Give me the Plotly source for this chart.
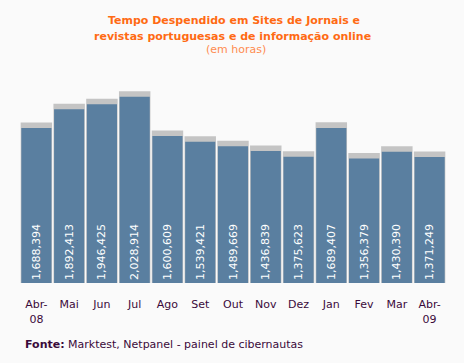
import plotly.graph_objects as go

months = ["Abr-<br>08", "Mai", "Jun", "Jul", "Ago", "Set", "Out", "Nov", "Dez", "Jan", "Fev", "Mar", "Abr-<br>09"]
hours = [1688394, 1892413, 1946425, 2028914, 1600609, 1539421, 1489669, 1436839, 1375623, 1689407, 1356379, 1430390, 1371249]
shadow_h = 60000

labels = [f"{v:,}" for v in hours]
x = list(range(len(months)))

# plot area geometry (px) used for placing text annotations
L, R, T, B = 20, 446, 81, 283

fig = go.Figure()
fig.add_trace(go.Bar(
    x=x, y=[v + shadow_h for v in hours], width=0.96,
    marker=dict(color="#c4c4c4", line=dict(width=0)),
    hoverinfo="skip", showlegend=False,
))
fig.add_trace(go.Bar(
    x=x, y=hours, width=0.92,
    marker=dict(color="#5a7fa0", line=dict(width=0)),
    text=labels, textposition="inside", insidetextanchor="start",
    textangle=-90, textfont=dict(color="white", size=11, family="DejaVu Sans"),
    showlegend=False,
))

fig.update_layout(
    width=464, height=363,
    barmode="overlay",
    paper_bgcolor="#fafafa", plot_bgcolor="#fafafa",
    margin=dict(l=L, r=464 - R, t=T, b=363 - B),
    font=dict(family="DejaVu Sans", size=11, color="#3a0a3a"),
    xaxis=dict(tickmode="array", tickvals=x, ticktext=months, showgrid=False,
               zeroline=False, showline=False, ticks="outside", ticklen=11,
               tickcolor="rgba(0,0,0,0)", range=[-0.5, 12.5],
               tickfont=dict(size=11, color="#3a0a3a")),
    yaxis=dict(range=[0, 2200000], visible=False),
)

def ann(text, px, py, color, size=11, xanchor="center"):
    fig.add_annotation(text=text, x=(px - L) / (R - L), y=(B - py) / (B - T),
                       xref="paper", yref="paper", showarrow=False,
                       xanchor=xanchor, yanchor="middle",
                       font=dict(size=size, color=color, family="DejaVu Sans"))

ann("<b>Tempo Despendido em Sites de Jornais e</b>", 234, 21, "#ff6a13")
ann("<b>revistas portuguesas e de informação online</b>", 232, 36, "#ff6a13")
ann("(em horas)", 236, 49, "#ff8c50")
ann("<b>Fonte:</b> Marktest, Netpanel - painel de cibernautas", 23, 344, "#3a0a3a",
    size=11, xanchor="left")

fig.write_html("out.html", config={"displayModeBar": False},
               post_script="document.body.style.margin='0';document.body.style.background='#fafafa';")
